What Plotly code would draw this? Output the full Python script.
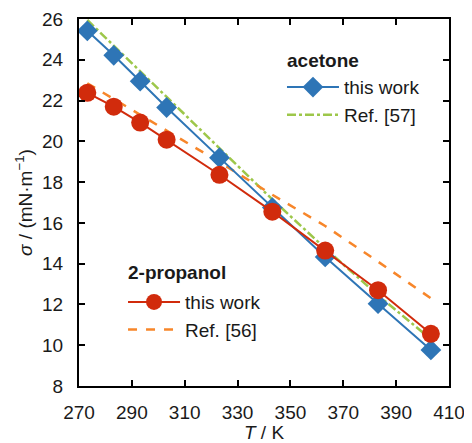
import plotly.graph_objects as go

T = [273.15, 283.15, 293.15, 303.15, 323.15, 343.15, 363.15, 383.15, 403.15]
acetone_this_work = [25.42, 24.22, 22.95, 21.66, 19.20, 16.75, 14.33, 12.04, 9.77]
propanol_this_work = [22.38, 21.70, 20.92, 20.08, 18.36, 16.55, 14.64, 12.70, 10.56]
acetone_ref57 = [25.95, 24.70, 23.45, 22.20, 19.65, 17.15, 14.75, 12.45, 10.30]
propanol_ref56 = [22.85, 22.08, 21.31, 20.54, 18.98, 17.38, 15.85, 14.10, 12.30]

x_ticks = [270, 290, 310, 330, 350, 370, 390, 410]
y_ticks = [8, 10, 12, 14, 16, 18, 20, 22, 24, 26]

BLUE = "#2E75B6"
RED = "#D12B0C"
ORANGE = "#F7862A"
GREEN = "#9DC74A"
FONT = "Liberation Sans, Arial, sans-serif"
TXT = "#1a1a1a"

fig = go.Figure()

fig.add_trace(go.Scatter(x=T, y=acetone_ref57, mode="lines", name="Ref. [57]",
                         line=dict(color=GREEN, width=2.5, dash="dashdot"),
                         legend="legend", legendrank=2))
fig.add_trace(go.Scatter(x=T, y=propanol_ref56, mode="lines", name="Ref. [56]",
                         line=dict(color=ORANGE, width=2.5, dash="dash"),
                         legend="legend2", legendrank=2))
fig.add_trace(go.Scatter(x=T, y=acetone_this_work, mode="lines+markers", name="this work",
                         line=dict(color=BLUE, width=2),
                         marker=dict(symbol="diamond", size=16, color=BLUE),
                         legend="legend", legendrank=1))
fig.add_trace(go.Scatter(x=T, y=propanol_this_work, mode="lines+markers", name="this work",
                         line=dict(color=RED, width=2),
                         marker=dict(symbol="circle", size=18, color=RED),
                         legend="legend2", legendrank=1))

axis_common = dict(
    showline=True, linecolor="black", linewidth=2, mirror="ticks",
    ticks="inside", ticklen=6, tickwidth=2, tickcolor="black",
    showgrid=False, zeroline=False, automargin=False,
    tickfont=dict(family=FONT, size=19, color=TXT),
)

legend_common = dict(
    xanchor="left", yanchor="top",
    bgcolor="rgba(0,0,0,0)", borderwidth=0,
    font=dict(family=FONT, size=19, color=TXT),
    traceorder="normal", itemwidth=52,
)

# The page body has an 8px default margin, so the figure is 8px smaller
fig.update_layout(
    width=464, height=435,
    margin=dict(l=71, r=23, t=11, b=57),
    paper_bgcolor="white", plot_bgcolor="white",
    font=dict(family=FONT, size=19, color=TXT),
    xaxis=dict(range=[270, 410], tickvals=x_ticks, ticktext=[str(v) for v in x_ticks],
               ticklabelstandoff=8,
               title=dict(text="<i>T</i> / K", font=dict(family=FONT, size=19, color=TXT), standoff=2),
               **axis_common),
    yaxis=dict(range=[8, 26], tickvals=y_ticks, ticktext=[str(v) for v in y_ticks],
               ticklabelstandoff=10,
               title=dict(text="<i>σ</i> / (mN·m<sup>−1</sup>)", font=dict(family=FONT, size=19, color=TXT), standoff=4),
               **axis_common),
    legend=dict(x=0.5486, y=0.866, **legend_common),
    legend2=dict(x=0.119, y=0.2805, **legend_common),
    showlegend=True,
    annotations=[
        dict(text="<b>acetone</b>", xref="paper", yref="paper", x=0.558, y=0.888,
             xanchor="left", yanchor="middle", showarrow=False,
             font=dict(family=FONT, size=19, color=TXT)),
        dict(text="<b>2-propanol</b>", xref="paper", yref="paper", x=0.127, y=0.3106,
             xanchor="left", yanchor="middle", showarrow=False,
             font=dict(family=FONT, size=19, color=TXT)),
    ],
)

fig.write_html("out.html")
